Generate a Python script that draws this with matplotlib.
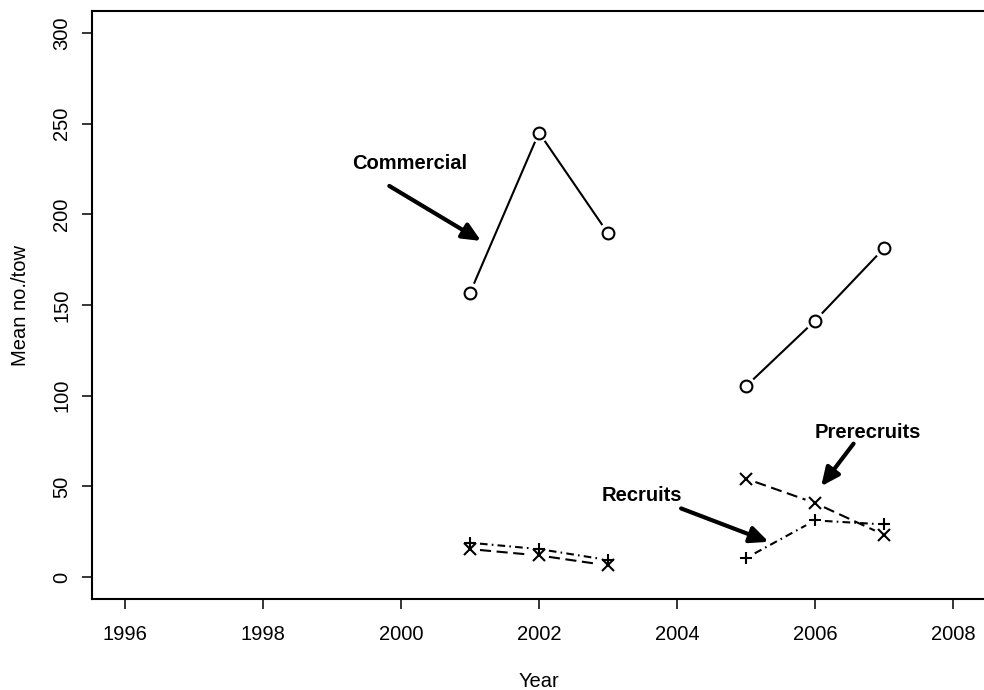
import numpy as np
import matplotlib
matplotlib.use("Agg")
import matplotlib.pyplot as plt

plt.rcParams['font.family'] = ['Liberation Sans', 'DejaVu Sans']
plt.rcParams['lines.scale_dashes'] = False

# survey means by year (no survey in 2004)
years = [2001, 2002, 2003, 2004, 2005, 2006, 2007]
commercial = [156.7, 245.0, 189.5, np.nan, 105.2, 141.3, 181.2]
prerecruits = [15.5, 12.0, 6.5, np.nan, 54.3, 40.9, 23.4]
recruits = [19.0, 15.5, 9.5, np.nan, 10.5, 31.3, 29.1]

xticks = [1996, 1998, 2000, 2002, 2004, 2006, 2008]
yticks = [0, 50, 100, 150, 200, 250, 300]

fig = plt.figure(figsize=(9.84, 6.9), dpi=100)
ax = fig.add_axes([92 / 984, 91 / 690, 894 / 984, 588 / 690])
ax.set_xlim(1995.52, 2008.48)
ax.set_ylim(-12, 312)

fs = 14.5
lw = 1.5
gap = 10  # pixels left open around each point, like R's type="b"


def draw_b(x, y, marker, ms, dashes):
    x = np.asarray(x, float)
    y = np.asarray(y, float)
    pts = ax.transData.transform(np.column_stack([x, y]))
    inv = ax.transData.inverted()
    for i in range(len(x) - 1):
        p0, p1 = pts[i], pts[i + 1]
        if np.isnan(p0).any() or np.isnan(p1).any():
            continue
        d = p1 - p0
        L = np.hypot(*d)
        if L <= 2 * gap:
            continue
        u = d / L
        a = inv.transform(p0 + u * gap)
        b = inv.transform(p1 - u * gap)
        ax.plot([a[0], b[0]], [a[1], b[1]], color='black', lw=lw,
                linestyle=dashes, dash_capstyle='butt', solid_capstyle='butt')
    ax.plot(x, y, linestyle='none', marker=marker, ms=ms, mew=1.5,
            mfc='none', mec='black')


draw_b(years, commercial, 'o', 8.5, '-')
draw_b(years, prerecruits, 'x', 8.5, (0, (8, 4)))
draw_b(years, recruits, '+', 9, (0, (5.5, 3, 1.2, 3)))

arrow = dict(arrowstyle='-|>,head_length=0.55,head_width=0.25', lw=3,
             color='black', mutation_scale=20, shrinkA=0, shrinkB=0)
ax.text(2000.12, 227.8, 'Commercial', fontsize=fs, fontweight='bold',
        ha='center', va='center')
ax.annotate('', xy=(2001.16, 185.3), xytext=(1999.83, 215.6), arrowprops=arrow)
ax.text(2003.49, 44.9, 'Recruits', fontsize=fs, fontweight='bold',
        ha='center', va='center')
ax.annotate('', xy=(2005.33, 19.5), xytext=(2004.06, 37.9), arrowprops=arrow)
ax.text(2006.76, 79.9, 'Prerecruits', fontsize=fs, fontweight='bold',
        ha='center', va='center')
ax.annotate('', xy=(2006.09, 50.1), xytext=(2006.56, 73.6), arrowprops=arrow)

ax.set_xticks(xticks)
ax.set_yticks(yticks)
ax.tick_params(axis='both', direction='out', length=7, width=1.1,
               labelsize=fs)
ax.tick_params(axis='x', pad=12)
ax.tick_params(axis='y', pad=8)
for lab in ax.get_yticklabels():
    lab.set_rotation(90)
    lab.set_va('center')
for s in ax.spines.values():
    s.set_linewidth(1.5)
# the box runs off the right edge of the page
ax.spines['right'].set_visible(False)

ax.set_xlabel('Year', fontsize=fs, labelpad=20)
ax.set_ylabel('Mean no./tow', fontsize=fs, labelpad=16)

fig.savefig('out.png', dpi=100)
